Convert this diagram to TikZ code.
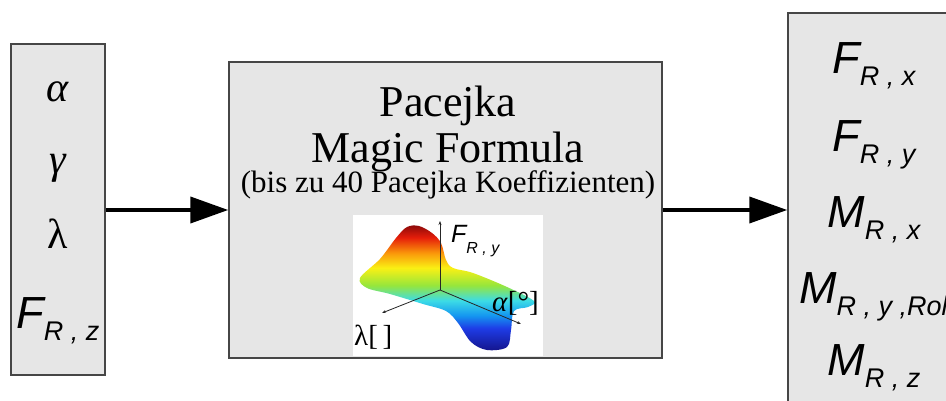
\documentclass[tikz,border=0pt]{standalone}
\usepackage{fontspec}
\setmainfont{Liberation Serif}
\newfontfamily\arialf{Liberation Sans}
\usetikzlibrary{arrows.meta}
\definecolor{boxfill}{RGB}{230,230,230}
\definecolor{boxline}{RGB}{70,70,70}
\definecolor{jdb}{RGB}{20,20,140}
\definecolor{jbl}{RGB}{30,60,230}
\definecolor{jcb}{RGB}{20,150,240}
\definecolor{jcy}{RGB}{60,220,230}
\definecolor{jgr}{RGB}{150,230,60}
\definecolor{jye}{RGB}{250,240,20}
\definecolor{jor}{RGB}{250,150,10}
\definecolor{jre}{RGB}{230,30,10}
\definecolor{jdr}{RGB}{140,10,10}
\pgfdeclareverticalshading{jetmap}{100bp}{color(0bp)=(jdb); color(25bp)=(jdb); color(34bp)=(jbl); color(39bp)=(jcb); color(45bp)=(jcy); color(51bp)=(jgr); color(58bp)=(jye); color(64bp)=(jor); color(70bp)=(jre); color(75bp)=(jdr); color(100bp)=(jdr)}
\newcommand\bigq[2]{{\arialf\itshape\fontsize{45}{45}\selectfont #1\raisebox{-12pt}{\fontsize{27}{27}\selectfont #2}}}
\newcommand\smallq[2]{{\arialf\itshape\fontsize{25}{25}\selectfont #1\raisebox{-10pt}{\fontsize{16}{16}\selectfont #2}}}
\begin{document}
\begin{tikzpicture}[x=1pt,y=-1pt,
  box/.style={draw=boxline, line width=1.5pt, fill=boxfill, inner sep=0pt},
  arr/.style={line width=4pt, -{Triangle[length=38pt,width=26pt]}},
  txt/.style={anchor=base, inner sep=0pt},
  greek/.style={txt, font=\fontsize{42}{42}\selectfont\itshape},
  ax/.style={line width=0.8pt, draw=black!85, -{Stealth[length=4pt,width=3pt]}}]
\clip (0,0) rectangle (946,401);
\fill[white] (0,0) rectangle (946,401);
% boxes
\node[box, minimum width=94pt, minimum height=331pt] (lbox) at (58,209.5) {};
\node[box, minimum width=433pt, minimum height=296pt] (mbox) at (445.5,210) {};
\node[box, minimum width=172pt, minimum height=396pt] (rbox) at (874,211) {};
% arrows
\draw[arr] (lbox.east |- mbox.west) -- (mbox.west);
\draw[arr] (mbox.east) -- (rbox.west |- mbox.east);
% left texts
\node[greek] (alpha) at (58,102) {α};
\node[greek] (gamma) at (58,174) {γ};
\node[greek, font=\fontsize{42}{42}\selectfont\upshape] (lambda) at (58,248) {λ};
\node[txt] (frz) at (58,328) {\bigq{F}{R , z}};
% right texts
\node[txt] (frx) at (874,74) {\bigq{F}{R , x}};
\node[txt] (fry) at (874,152) {\bigq{F}{R , y}};
\node[txt] (mrx) at (874,228) {\bigq{M}{R , x}};
\node[txt, anchor=base west] (mry) at (799,303) {\bigq{M}{R , y ,Roll}};
\node[txt] (mrz) at (874,375) {\bigq{M}{R , z}};
% middle texts
\node[txt, font=\fontsize{44}{44}\selectfont] (t1) at (448,117) {Pacejka};
\node[txt, font=\fontsize{44}{44}\selectfont] (t2) at (448,163) {Magic Formula};
\node[txt, font=\fontsize{31}{31}\selectfont] (t3) at (448,193) {(bis zu 40 Pacejka Koeffizienten)};
% image
\node[fill=white, inner sep=0pt, minimum width=190pt, minimum height=141pt] (img) at (448,285.5) {};
\shade[shading=jetmap] plot[smooth cycle, tension=0.55] coordinates {
  (360,278) (380,259) (396,238) (407,227) (419,226) (432,233) (441,243)
  (446,260) (453,268) (473,273) (507,287) (534,301)
  (528,307) (514,311) (511,330) (507,347) (487,350) (471,342) (458,323)
  (446,311) (423,304) (390,294) (367,288)};
\coordinate (o) at (440,290);
\coordinate (az) at (440,221);
\coordinate (al) at (382,313);
\coordinate (aa) at (521,324);
\draw[ax] (o) -- (az);
\draw[ax] (o) -- (al);
\draw[ax] (o) -- (aa);
\node[anchor=base west, inner sep=0pt] (lfy) at (451,243) {\smallq{F}{R , y}};
\node[anchor=base west, inner sep=0pt, font=\fontsize{29}{29}\selectfont] (lal) at (492,311) {\textit{α}[°]};
\node[anchor=base west, inner sep=0pt, font=\fontsize{29}{29}\selectfont] (lla) at (354,345) {λ[\,]};
\end{tikzpicture}
\end{document}
